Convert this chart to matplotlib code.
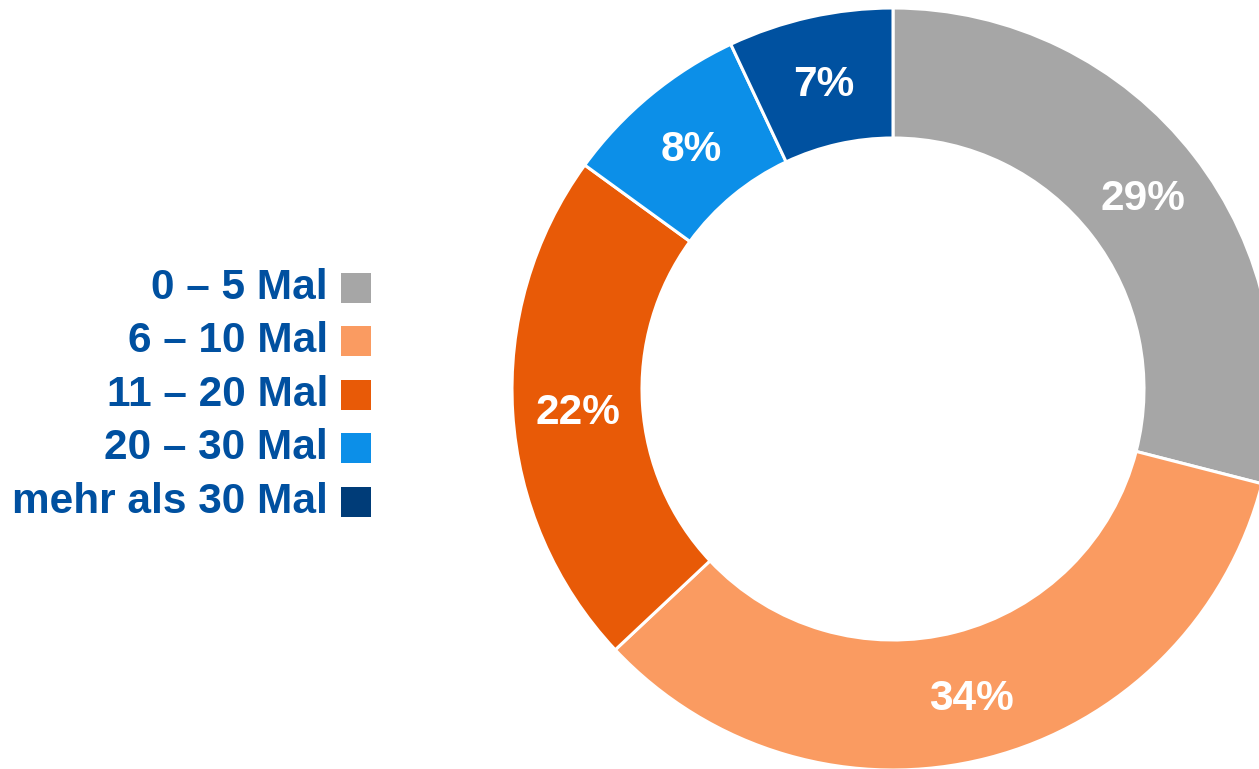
import matplotlib.pyplot as plt
from matplotlib.patches import Rectangle

plt.rcParams['font.family'] = ['Liberation Sans', 'DejaVu Sans']

# data
categories = ['0 – 5 Mal', '6 – 10 Mal', '11 – 20 Mal', '20 – 30 Mal', 'mehr als 30 Mal']
values = [29, 34, 22, 8, 7]
colors = ['#A6A6A6', '#FA9B61', '#E85A07', '#0C8FE8', '#0051A0']
legend_colors = ['#A6A6A6', '#FA9B61', '#E85A07', '#0C8FE8', '#003C78']
text_color = '#0050A0'

W, H = 1259, 769
fig = plt.figure(figsize=(W / 100, H / 100), dpi=100)
ax = fig.add_axes([0, 0, 1, 1])

# donut, starting at 12 o'clock, clockwise
R = 381
ring = 130
wedges, texts, autotexts = ax.pie(
    values, colors=colors, startangle=90, counterclock=False,
    center=(893, H - 389), radius=R,
    wedgeprops=dict(width=ring, edgecolor='white', linewidth=2.2),
    autopct='%1.0f%%', pctdistance=(R - ring / 2) / R,
    textprops=dict(color='white', fontsize=30.5, fontweight='bold'))

# nudge labels a little down to sit like the original
for t in autotexts:
    x, y = t.get_position()
    t.set_position((x, y - 4))

ax.set_xlim(0, W)
ax.set_ylim(0, H)
ax.set_aspect('equal')
ax.axis('off')

# legend on the left
row_y = [288, 341, 395, 448, 502]
for lab, col, y in zip(categories, legend_colors, row_y):
    ax.text(328, H - y, lab, ha='right', va='center', color=text_color,
            fontsize=30.5, fontweight='bold')
    ax.add_patch(Rectangle((341, H - y - 15), 30, 30, facecolor=col, edgecolor='none'))

fig.savefig('out.png', dpi=100)
